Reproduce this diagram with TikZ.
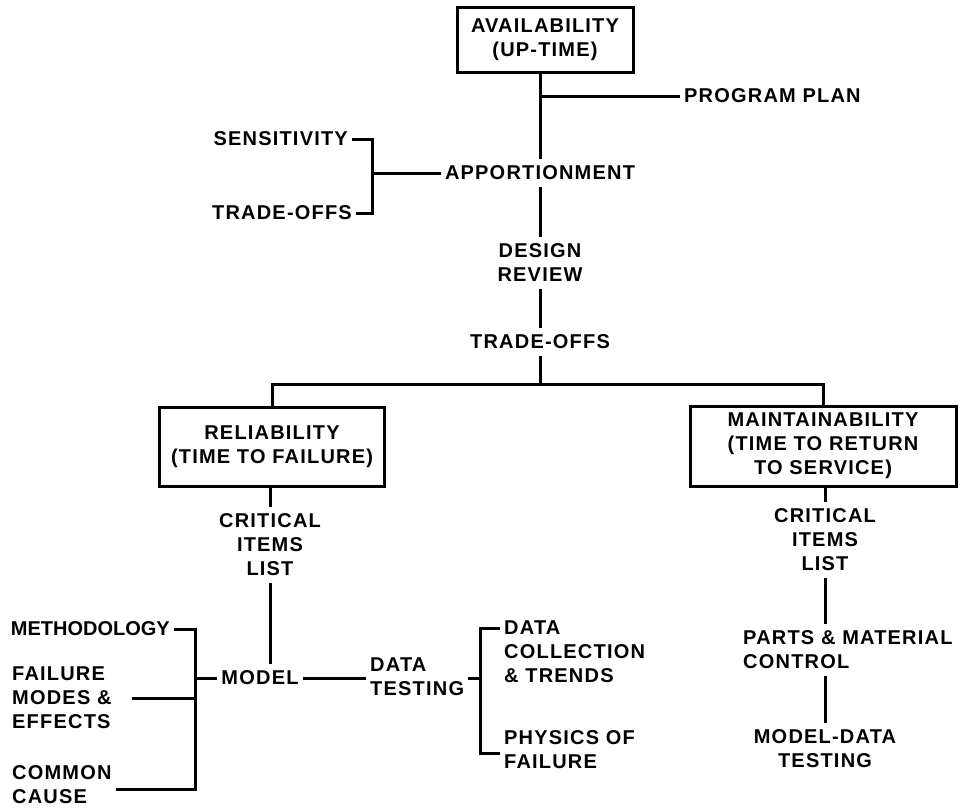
\documentclass[tikz,border=0pt]{standalone}
\usepackage{fontspec}
\setmainfont{Liberation Sans}[LetterSpace=6]
\usetikzlibrary{positioning}
\newcommand\chartfont{\fontsize{20}{24}\selectfont\bfseries}
\tikzset{
  % boxed program element
  elbox/.style={
    draw, line width=3pt,
    align=center, inner sep=2pt,
    font=\chartfont
  },
  % plain lettered label
  lbl/.style={
    align=center, inner xsep=4pt, inner ysep=7pt,
    font=\chartfont
  },
  lblL/.style={
    align=left, inner xsep=4pt, inner ysep=7pt,
    font=\chartfont
  },
  % connector
  link/.style={line width=3pt},
}

\begin{document}
\begin{tikzpicture}[x=1pt, y=-1pt]
\useasboundingbox (0,0) rectangle (963,807);

% ── Top: availability and apportionment ─────────────────────────────────────
\node[elbox, minimum width=176pt, minimum height=65pt] (avB) at (545,40)
  {AVAILABILITY\\(UP-TIME)};
\node[lblL, anchor=west] (planL) at (680,96) {PROGRAM PLAN};
\node[lbl] (appL) at (540,173) {APPORTIONMENT};
\node[lbl, anchor=east] (sensL) at (352,139) {SENSITIVITY};
\node[lbl, anchor=east] (tofL) at (356,213) {TRADE-OFFS};
\node[lbl] (desL) at (540,263) {DESIGN\\REVIEW};
\node[lbl] (tof2L) at (540,342) {TRADE-OFFS};

\coordinate (sBr) at (372,173);
\coordinate (split) at (540,384);

% ── Boxes: reliability and maintainability ──────────────────────────────────
\node[elbox, minimum width=225pt, minimum height=79pt] (relB) at (272,447)
  {RELIABILITY\\(TIME TO FAILURE)};
\node[elbox, minimum width=266pt, minimum height=80pt] (mntB) at (823,446)
  {MAINTAINABILITY\\(TIME TO RETURN\\TO SERVICE)};

% ── Reliability branch ──────────────────────────────────────────────────────
\node[lbl] (crit1L) at (270,545) {CRITICAL\\ITEMS\\LIST};
\node[lbl] (modL) at (260,678) {MODEL};
% narrower lettering in the original
\node[lbl, anchor=east] (methL) at (174,629)
  {\addfontfeature{LetterSpace=0}METHODOLOGY};
\node[lblL, anchor=west] (fmL) at (8,698) {FAILURE\\MODES \&\\EFFECTS};
\node[lblL, anchor=west] (comL) at (8,785) {COMMON\\CAUSE};
\node[lblL, anchor=west] (dtL) at (366,677) {DATA\\TESTING};
\node[lblL, anchor=north west] (dcL) at (500,614) {DATA\\COLLECTION\\\& TRENDS};
\node[lblL, anchor=west] (phL) at (500,750) {PHYSICS OF\\FAILURE};

\coordinate (mBr) at (195,678);
\coordinate (dBr) at (480,678);

% ── Maintainability branch ──────────────────────────────────────────────────
\node[lbl] (crit2L) at (825,540) {CRITICAL\\ITEMS\\LIST};
\node[lblL, anchor=west] (paL) at (739,650) {PARTS \& MATERIAL\\CONTROL};
\node[lbl] (mdL) at (825,749) {MODEL-DATA\\TESTING};

% ── Connectors: top ─────────────────────────────────────────────────────────
\draw[link] (avB.south -| appL) -- (appL.north);
\draw[link] (appL.north |- planL.west) -- (planL.west);
\draw[link] (sensL.east) -| (sBr) |- (tofL.east);
\draw[link] (sBr) -- (appL.west);
\draw[link] (appL.south) -- (desL.north);
\draw[link] (desL.south) -- (tof2L.north);
\draw[link] (tof2L.south) -- (split);
\draw[link] (relB.north) |- (split) -| (mntB.north);

% ── Connectors: reliability ─────────────────────────────────────────────────
\draw[link] (relB.south -| crit1L) -- (crit1L.north);
\draw[link] (crit1L.south) -- (crit1L.south |- modL.north);
\draw[link] (methL.east) -| (mBr) |- ([yshift=-4pt]comL.east);
\draw[link] ([xshift=16pt]fmL.east) -- (fmL.east -| mBr);
\draw[link] (mBr) -- (modL.west);
\draw[link] (modL.east) -- (modL.east -| dtL.west);
\draw[link] (dtL.east |- dBr) -- (dBr);
\draw[link] ([yshift=-14pt]dcL.north west) -| (dBr) |- ([yshift=-3pt]phL.west);

% ── Connectors: maintainability ─────────────────────────────────────────────
\draw[link] (mntB.south -| crit2L) -- (crit2L.north);
\draw[link] (crit2L.south) -- (crit2L.south |- paL.north);
\draw[link] (mdL.north |- paL.south) -- (mdL.north);

\end{tikzpicture}
\end{document}
